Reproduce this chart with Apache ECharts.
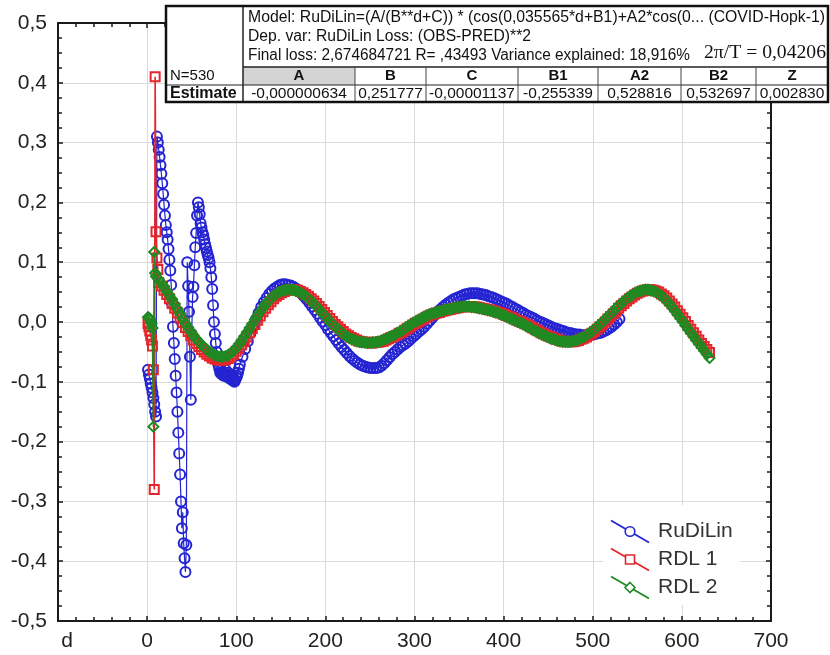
<!DOCTYPE html>
<html><head><meta charset="utf-8">
<script src="https://cdn.jsdelivr.net/npm/echarts@6/dist/echarts.min.js"></script>
<style>html,body{margin:0;padding:0;background:#fff}#c{width:830px;height:655px}</style>
</head><body><div id="c"></div>
<script>
// ---------- tick labels ----------
const xTickLabels = ['d','0','100','200','300','400','500','600','700'];
const yTickLabels = ['-0,5','-0,4','-0,3','-0,2','-0,1','0,0','0,1','0,2','0,3','0,4','0,5'];

// ---------- series: [d, value] ----------
const rudilin = [
[1,-0.080],[2,-0.088],[3,-0.095],[4,-0.103],[5,-0.110],[6,-0.118],[7,-0.127],[8,-0.138],[9,-0.150],[10,-0.158],
[11,0.310],[12,0.300],[13,0.288],[14,0.276],[15,0.262],[16,0.248],[17,0.232],[18,0.214],[19,0.196],[20,0.178],
[21,0.162],[22,0.150],[23,0.138],[24,0.122],[25,0.104],[26,0.086],[27,0.062],[28,0.030],[29,-0.008],[30,-0.035],
[31,-0.062],[32,-0.090],[33,-0.118],[34,-0.150],[35,-0.185],[36,-0.220],[37,-0.255],[38,-0.300],[39,-0.345],[40,-0.318],
[41,-0.370],[42,-0.395],[43,-0.418],[44,-0.373],[45,0.100],[46,0.060],[47,0.017],[48,-0.058],[49,-0.130],[50,-0.020],
[51,0.042],[52,0.059],[53,0.095],[54,0.125],[55,0.149],[56,0.178],[57,0.200],[58,0.192],[59,0.180],[60,0.165],
[61,0.158],[62,0.150],[63,0.145],[64,0.138],[65,0.130],[66,0.124],[67,0.118],[68,0.112],[69,0.107],[70,0.100],
[71,0.090],[72,0.075],[73,0.055],[74,0.028],[75,0.000],[76,-0.020],[77,-0.035],[78,-0.050],[79,-0.062],[80,-0.072],
[81,-0.078],[82,-0.085],[83,-0.080],[84,-0.088],[85,-0.083],[86,-0.090],[87,-0.086],[88,-0.080],[89,-0.088],[90,-0.092],
[91,-0.085],[92,-0.090],[93,-0.095],[94,-0.088],[95,-0.092],[96,-0.098],[97,-0.095],[98,-0.100],[99,-0.097],[100,-0.093],
[101,-0.090],[102,-0.085],[103,-0.078],[104,-0.071],
[107,-0.058],[110,-0.045],[113,-0.032],[116,-0.019],[119,-0.007],[122,0.004],[125,0.015],[128,0.025],[131,0.033],[134,0.040],
[137,0.047],[140,0.052],[143,0.056],[146,0.059],[149,0.062],[152,0.063],[155,0.063],[158,0.062],[161,0.061],[164,0.059],
[167,0.056],[170,0.052],[173,0.048],[176,0.043],[179,0.038],[182,0.032],[185,0.026],[188,0.020],[191,0.014],[194,0.007],
[197,0.001],[200,-0.005],[203,-0.012],[206,-0.018],[209,-0.024],[212,-0.030],[215,-0.036],[218,-0.042],[221,-0.047],[224,-0.052],
[227,-0.057],[230,-0.061],[233,-0.065],[236,-0.068],[239,-0.071],[242,-0.073],[245,-0.075],[248,-0.076],[251,-0.077],[254,-0.077],
[257,-0.077],[260,-0.076],[263,-0.073],[266,-0.069],[269,-0.064],[272,-0.059],[275,-0.054],[278,-0.050],[281,-0.046],[284,-0.042],
[287,-0.039],[290,-0.036],[293,-0.032],[296,-0.028],[299,-0.024],[302,-0.020],[305,-0.016],[308,-0.012],[311,-0.008],[314,-0.003],
[317,0.002],[320,0.007],[323,0.012],[326,0.017],[329,0.021],[332,0.025],[335,0.029],[338,0.032],[341,0.035],[344,0.038],
[347,0.040],[350,0.042],[353,0.044],[356,0.046],[359,0.047],[362,0.048],[365,0.048],[368,0.048],[371,0.048],[374,0.047],
[377,0.046],[380,0.045],[383,0.043],[386,0.042],[389,0.040],[392,0.038],[395,0.036],[398,0.034],[401,0.032],[404,0.030],
[407,0.027],[410,0.025],[413,0.022],[416,0.020],[419,0.017],[422,0.015],[425,0.012],[428,0.010],[431,0.008],[434,0.006],
[437,0.003],[440,0.001],[443,-0.001],[446,-0.003],[449,-0.005],[452,-0.007],[455,-0.009],[458,-0.011],[461,-0.012],[464,-0.014],
[467,-0.015],[470,-0.017],[473,-0.018],[476,-0.019],[479,-0.020],[482,-0.021],[485,-0.021],[488,-0.022],[491,-0.022],[494,-0.022],
[497,-0.021],[500,-0.021],[503,-0.020],[506,-0.019],[509,-0.018],[512,-0.016],[515,-0.014],[518,-0.011],[521,-0.008],[524,-0.004],
[527,0.000],[530,0.005]
];

const rdl1 = [
[1,-0.003],[2,-0.008],[3,-0.015],[4,-0.022],[5,-0.030],[6,-0.040],[7,-0.080],[8,-0.280],[9,0.410],[10,0.151],[11,0.107],[12,0.088],
[13,0.066],[16,0.060],[19,0.053],[22,0.046],[25,0.039],[28,0.031],[31,0.023],[34,0.015],[37,0.007],[40,-0.001],
[43,-0.009],[46,-0.016],[49,-0.023],[52,-0.030],[55,-0.036],[58,-0.041],[61,-0.046],[64,-0.050],[67,-0.054],[70,-0.057],
[73,-0.060],[76,-0.062],[79,-0.063],[82,-0.064],[85,-0.064],[88,-0.063],[91,-0.061],[94,-0.058],[97,-0.054],[100,-0.049],
[103,-0.044],[106,-0.038],[109,-0.032],[112,-0.025],[115,-0.018],[118,-0.011],[121,-0.004],[124,0.003],[127,0.010],[130,0.017],
[133,0.023],[136,0.029],[139,0.034],[142,0.039],[145,0.043],[148,0.046],[151,0.049],[154,0.051],[157,0.053],[160,0.054],
[163,0.054],[166,0.054],[169,0.053],[172,0.051],[175,0.049],[178,0.046],[181,0.043],[184,0.039],[187,0.035],[190,0.031],
[193,0.026],[196,0.021],[199,0.016],[202,0.011],[205,0.006],[208,0.001],[211,-0.004],[214,-0.008],[217,-0.012],[220,-0.016],
[223,-0.020],[226,-0.023],[229,-0.026],[232,-0.028],[235,-0.030],[238,-0.032],[241,-0.033],[244,-0.034],[247,-0.034],[250,-0.035],
[253,-0.035],[256,-0.034],[259,-0.034],[262,-0.033],[265,-0.032],[268,-0.030],[271,-0.028],[274,-0.026],[277,-0.024],[280,-0.022],
[283,-0.019],[286,-0.017],[289,-0.014],[292,-0.011],[295,-0.008],[298,-0.005],[301,-0.002],[304,0.000],[307,0.003],[310,0.005],
[313,0.008],[316,0.010],[319,0.012],[322,0.014],[325,0.015],[328,0.016],[331,0.018],[334,0.019],[337,0.020],[340,0.021],
[343,0.022],[346,0.023],[349,0.024],[352,0.025],[355,0.025],[358,0.026],[361,0.026],[364,0.026],[367,0.025],[370,0.025],
[373,0.024],[376,0.023],[379,0.022],[382,0.021],[385,0.020],[388,0.019],[391,0.018],[394,0.016],[397,0.015],[400,0.013],
[403,0.011],[406,0.009],[409,0.007],[412,0.005],[415,0.003],[418,0.001],[421,-0.001],[424,-0.003],[427,-0.005],[430,-0.008],
[433,-0.010],[436,-0.013],[439,-0.015],[442,-0.018],[445,-0.020],[448,-0.022],[451,-0.024],[454,-0.026],[457,-0.028],[460,-0.029],
[463,-0.031],[466,-0.032],[469,-0.033],[472,-0.033],[475,-0.033],[478,-0.033],[481,-0.032],[484,-0.031],[487,-0.029],[490,-0.027],
[493,-0.025],[496,-0.022],[499,-0.019],[502,-0.016],[505,-0.012],[508,-0.008],[511,-0.004],[514,0.000],[517,0.005],[520,0.009],
[523,0.014],[526,0.018],[529,0.023],[532,0.027],[535,0.031],[538,0.035],[541,0.039],[544,0.042],[547,0.045],[550,0.048],
[553,0.050],[556,0.052],[559,0.053],[562,0.054],[565,0.054],[568,0.053],[571,0.052],[574,0.050],[577,0.047],[580,0.044],
[583,0.040],[586,0.035],[589,0.030],[592,0.025],[595,0.019],[598,0.013],[601,0.007],[604,0.001],[607,-0.006],[610,-0.012],
[613,-0.018],[616,-0.024],[619,-0.030],[622,-0.036],[625,-0.041],[628,-0.046],[631,-0.051]
];

const rdl2 = [
[1,0.008],[2,0.007],[3,0.005],[4,0.002],[5,-0.003],[6,-0.010],[7,-0.175],[8,0.117],[9,0.082],
[10,0.076],[13,0.071],[16,0.065],[19,0.059],[22,0.052],[25,0.045],[28,0.038],[31,0.030],[34,0.022],[37,0.014],
[40,0.006],[43,-0.002],[46,-0.009],[49,-0.016],[52,-0.022],[55,-0.028],[58,-0.033],[61,-0.038],[64,-0.042],[67,-0.046],
[70,-0.050],[73,-0.053],[76,-0.055],[79,-0.057],[82,-0.058],[85,-0.058],[88,-0.057],[91,-0.055],[94,-0.052],[97,-0.048],
[100,-0.043],[103,-0.037],[106,-0.031],[109,-0.024],[112,-0.017],[115,-0.010],[118,-0.003],[121,0.004],[124,0.011],[127,0.018],
[130,0.024],[133,0.030],[136,0.035],[139,0.040],[142,0.044],[145,0.047],[148,0.050],[151,0.052],[154,0.053],[157,0.054],
[160,0.054],[163,0.054],[166,0.053],[169,0.051],[172,0.049],[175,0.046],[178,0.043],[181,0.039],[184,0.035],[187,0.031],
[190,0.026],[193,0.021],[196,0.016],[199,0.011],[202,0.006],[205,0.001],[208,-0.004],[211,-0.008],[214,-0.012],[217,-0.016],
[220,-0.020],[223,-0.023],[226,-0.026],[229,-0.028],[232,-0.030],[235,-0.032],[238,-0.033],[241,-0.034],[244,-0.034],[247,-0.035],
[250,-0.035],[253,-0.034],[256,-0.034],[259,-0.033],[262,-0.032],[265,-0.030],[268,-0.028],[271,-0.026],[274,-0.024],[277,-0.022],
[280,-0.019],[283,-0.017],[286,-0.014],[289,-0.011],[292,-0.008],[295,-0.005],[298,-0.002],[301,0.000],[304,0.003],[307,0.005],
[310,0.008],[313,0.010],[316,0.012],[319,0.014],[322,0.015],[325,0.016],[328,0.018],[331,0.019],[334,0.020],[337,0.021],
[340,0.022],[343,0.023],[346,0.024],[349,0.025],[352,0.025],[355,0.026],[358,0.026],[361,0.026],[364,0.025],[367,0.025],
[370,0.024],[373,0.023],[376,0.022],[379,0.021],[382,0.020],[385,0.019],[388,0.018],[391,0.016],[394,0.015],[397,0.013],
[400,0.011],[403,0.009],[406,0.007],[409,0.005],[412,0.003],[415,0.001],[418,-0.001],[421,-0.003],[424,-0.005],[427,-0.008],
[430,-0.010],[433,-0.013],[436,-0.015],[439,-0.018],[442,-0.020],[445,-0.022],[448,-0.024],[451,-0.026],[454,-0.028],[457,-0.029],
[460,-0.031],[463,-0.032],[466,-0.033],[469,-0.033],[472,-0.033],[475,-0.033],[478,-0.032],[481,-0.031],[484,-0.029],[487,-0.027],
[490,-0.025],[493,-0.022],[496,-0.019],[499,-0.016],[502,-0.012],[505,-0.008],[508,-0.004],[511,0.000],[514,0.005],[517,0.009],
[520,0.014],[523,0.018],[526,0.023],[529,0.027],[532,0.031],[535,0.035],[538,0.039],[541,0.042],[544,0.045],[547,0.048],
[550,0.050],[553,0.052],[556,0.053],[559,0.054],[562,0.054],[565,0.053],[568,0.052],[571,0.050],[574,0.047],[577,0.044],
[580,0.040],[583,0.035],[586,0.030],[589,0.025],[592,0.019],[595,0.013],[598,0.007],[601,0.001],[604,-0.006],[607,-0.012],
[610,-0.018],[613,-0.024],[616,-0.030],[619,-0.036],[622,-0.042],[625,-0.048],[628,-0.054],[631,-0.060]
];

// ---------- texts of the results table ----------
const seriesNames = ['RuDiLin','RDL 1','RDL 2'];
const modelLines = [
  'Model: RuDiLin=(A/(B**d+C)) * (cos(0,035565*d+B1)+A2*cos(0... (COVID-Hopk-1)',
  'Dep. var: RuDiLin Loss: (OBS-PRED)**2',
  'Final loss: 2,674684721 R= ,43493 Variance explained: 18,916%'
];
const periodText = '2\u03c0/T = 0,04206';
const paramNames = ['A','B','C','B1','A2','B2','Z'];
const paramEstimates = ['-0,000000634','0,251777','-0,00001137','-0,255339','0,528816','0,532697','0,002830'];
const nText = 'N=530';
const estimateLabel = 'Estimate';

// ---------- styling ----------
const BLUE = '#2424d2', RED = '#e3262b', GREEN = '#1f8a22';
const FONT = '"Liberation Sans", Arial, sans-serif';
const SERIF = '"Liberation Serif", "Times New Roman", serif';
const AX = '#1a1a1a';

const cv = document.createElement('canvas').getContext('2d');
function tw(text, font){ cv.font = font; return cv.measureText(text).width; }

const chart = echarts.init(document.getElementById('c'), null, {renderer:'canvas'});

const G = {left:58, top:23, width:713, height:598};

function axisCommon(extra){
  return Object.assign({
    axisLine:{show:true, onZero:false, lineStyle:{color:AX, width:2}},
    axisTick:{show:true, inside:true, length:5, lineStyle:{color:AX, width:1.5}},
    minorTick:{show:true, length:4, lineStyle:{color:AX, width:1.5}},
    splitLine:{show:false},
    minorSplitLine:{show:false}
  }, extra);
}

// table geometry
const TL = 166, TR = 828, TT = 6, TB = 102, HR = 67, MR = 85, LC = 243;
const colEdges = [243,355,426,518,598,681,756,828];

const graphics = [];
graphics.push({type:'rect', z:100, shape:{x:TL, y:TT, width:TR-TL, height:TB-TT}, style:{fill:'#fff', stroke:'none'}});
graphics.push({type:'rect', z:101, shape:{x:colEdges[0], y:HR, width:colEdges[1]-colEdges[0], height:MR-HR}, style:{fill:'#d4d4d4'}});
graphics.push({type:'line', z:102, shape:{x1:LC, y1:HR, x2:TR, y2:HR}, style:{stroke:'#222', lineWidth:1.5}});
graphics.push({type:'line', z:102, shape:{x1:TL, y1:MR, x2:TR, y2:MR}, style:{stroke:'#222', lineWidth:1.2}});
graphics.push({type:'line', z:102, shape:{x1:LC, y1:TT, x2:LC, y2:TB}, style:{stroke:'#222', lineWidth:1.5}});
for (let i=1;i<colEdges.length-1;i++){
  graphics.push({type:'line', z:102, shape:{x1:colEdges[i], y1:HR, x2:colEdges[i], y2:TB}, style:{stroke:'#444', lineWidth:1}});
}
graphics.push({type:'rect', z:103, shape:{x:TL, y:TT, width:TR-TL, height:TB-TT}, style:{fill:'none', stroke:'#111', lineWidth:2.5}});

// model text lines, fitted to the widths seen in the reference
const lineY = [18, 37, 56];
const lineW = [577, 283, 442];
modelLines.forEach((t,i)=>{
  const f = '16px ' + FONT;
  const s = lineW[i] / tw(t, f);
  graphics.push({type:'text', z:104, x:248, y:lineY[i], scaleX:s,
    style:{x:0, y:0, text:t, font:f, fill:'#111', textAlign:'left', textVerticalAlign:'middle'}});
});
{
  const f = '18px ' + SERIF;
  const s = 122 / tw(periodText, f);
  graphics.push({type:'text', z:104, x:826, y:53, scaleX:s,
    style:{x:0, y:0, text:periodText, font:f, fill:'#111', textAlign:'right', textVerticalAlign:'middle'}});
}
graphics.push({type:'text', z:104, x:170, y:76, style:{text:nText, font:'15px '+FONT, fill:'#111', textAlign:'left', textVerticalAlign:'middle'}});
graphics.push({type:'text', z:104, x:170, y:94, style:{text:estimateLabel, font:'bold 16px '+FONT, fill:'#111', textAlign:'left', textVerticalAlign:'middle'}});
paramNames.forEach((p,i)=>{
  const cx = (colEdges[i]+colEdges[i+1])/2;
  graphics.push({type:'text', z:104, x:cx, y:76, style:{text:p, font:'bold 15px '+FONT, fill:'#111', textAlign:'center', textVerticalAlign:'middle'}});
  graphics.push({type:'text', z:104, x:cx, y:94, style:{text:paramEstimates[i], font:'15.5px '+FONT, fill:'#111', textAlign:'center', textVerticalAlign:'middle'}});
});

// legend box
const legY = [531.5, 559.5, 587.5];
const legCol = [BLUE, RED, GREEN];
graphics.push({type:'rect', z:90, shape:{x:603, y:505, width:137, height:100}, style:{fill:'#fff'}});
legY.forEach((y,i)=>{
  graphics.push({type:'line', z:91, shape:{x1:611, y1:y-11, x2:649, y2:y+11}, style:{stroke:legCol[i], lineWidth:1.8}});
  let sym;
  if (i===0) sym = {type:'circle', shape:{cx:630, cy:y, r:4.8}};
  else if (i===1) sym = {type:'rect', shape:{x:625.5, y:y-4.5, width:9, height:9}};
  else sym = {type:'polygon', shape:{points:[[630,y-5],[635,y],[630,y+5],[625,y]]}};
  sym.z = 92; sym.style = {fill:'#fff', stroke:legCol[i], lineWidth:1.6};
  graphics.push(sym);
  graphics.push({type:'text', z:92, x:658, y:y, style:{text:seriesNames[i], font:'21px '+FONT, fill:'#333', textAlign:'left', textVerticalAlign:'middle'}});
});

const option = {
  animation:false,
  backgroundColor:'#fff',
  grid:[Object.assign({show:false}, G)],
  xAxis:[
    axisCommon({type:'value', min:-100, max:700, interval:100, position:'bottom',
      minorTick:{show:true, splitNumber:5, length:4, lineStyle:{color:AX, width:1.5}},
      splitLine:{show:true, lineStyle:{color:'#dadada', width:1}},
      axisLabel:{show:true, showMinLabel:true, showMaxLabel:true, margin:10, fontSize:21, fontFamily:FONT, color:'#222',
        formatter:(v)=>{ const i=Math.round((v+100)/100); return i===0 ? '{dd|'+xTickLabels[0]+'}' : xTickLabels[i]; },
        rich:{dd:{fontSize:21, fontFamily:FONT, color:'#222', padding:[0,0,0,18]}}}}),
    axisCommon({type:'value', min:-100, max:700, interval:100, position:'top',
      minorTick:{show:true, splitNumber:5, length:4, lineStyle:{color:AX, width:1.5}},
      axisLabel:{show:false}})
  ],
  yAxis:[
    axisCommon({type:'value', min:-0.5, max:0.5, interval:0.1, position:'left',
      minorTick:{show:true, splitNumber:4, length:4, lineStyle:{color:AX, width:1.5}},
      splitLine:{show:true, lineStyle:{color:'#dadada', width:1}},
      axisLabel:{show:true, showMinLabel:true, showMaxLabel:true, margin:11, fontSize:21, fontFamily:FONT, color:'#222',
        formatter:(v)=> yTickLabels[Math.round((v+0.5)*10)]}}),
    axisCommon({type:'value', min:-0.5, max:0.5, interval:0.1, position:'right',
      minorTick:{show:true, splitNumber:4, length:4, lineStyle:{color:AX, width:1.5}},
      axisLabel:{show:false}})
  ],
  series:[
    {type:'line', name:seriesNames[0], data:rudilin, z:3, symbol:'circle', symbolSize:10, showAllSymbol:true,
      itemStyle:{color:'rgba(255,255,255,0)', borderColor:BLUE, borderWidth:2},
      lineStyle:{color:BLUE, width:1.2}, emphasis:{disabled:true}},
    {type:'line', name:seriesNames[1], data:rdl1, z:4, symbol:'rect', symbolSize:9, showAllSymbol:true,
      itemStyle:{color:'rgba(255,255,255,0)', borderColor:RED, borderWidth:2},
      lineStyle:{color:RED, width:1.6}, emphasis:{disabled:true}},
    {type:'line', name:seriesNames[2], data:rdl2, z:5, symbol:'diamond', symbolSize:10, showAllSymbol:true,
      itemStyle:{color:'rgba(255,255,255,0)', borderColor:GREEN, borderWidth:2},
      lineStyle:{color:GREEN, width:1.6}, emphasis:{disabled:true}}
  ],
  graphic: graphics
};
chart.setOption(option);
</script>
</body></html>
